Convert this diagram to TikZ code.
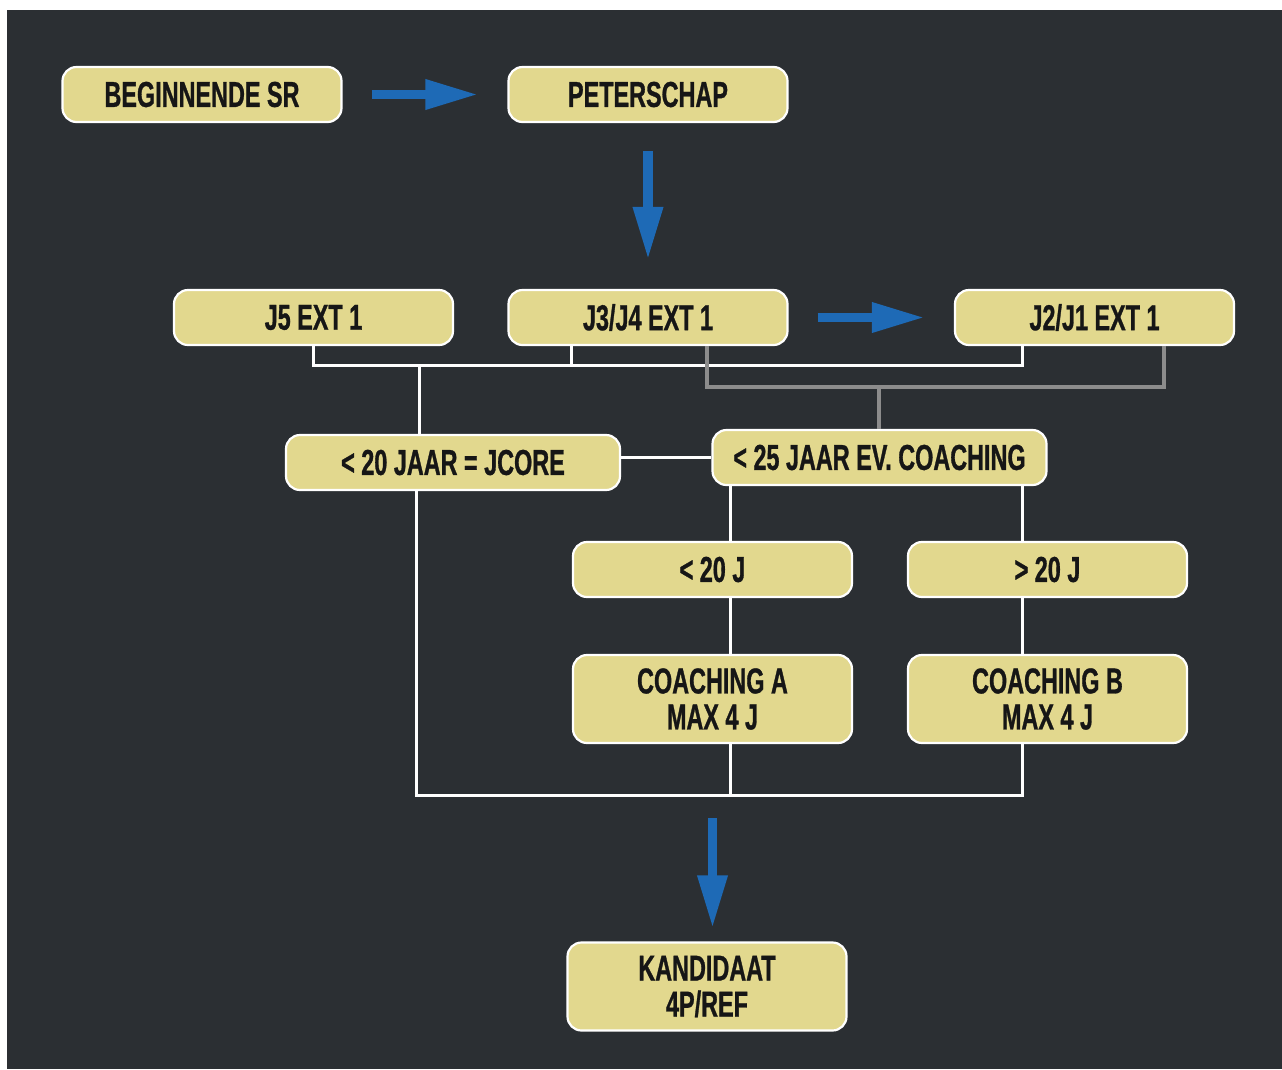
\documentclass[tikz,border=0pt]{standalone}
\usepackage{fontspec}
\newfontfamily\boxfont[FakeStretch=0.65,FakeBold=0.8]{Liberation Sans}
\usetikzlibrary{arrows.meta}
\definecolor{bgdark}{RGB}{43,47,51}
\definecolor{boxfill}{RGB}{226,216,142}
\definecolor{flowblue}{RGB}{30,106,182}
\definecolor{wiregrey}{RGB}{140,140,140}
\definecolor{inkdark}{RGB}{22,22,22}

\begin{document}
\begin{tikzpicture}[x=1pt,y=-1pt,
    box/.style={rectangle, rounded corners=14pt, draw=white, line width=2.2pt,
      fill=boxfill, minimum width=279pt, minimum height=55pt, inner sep=0pt,
      text=inkdark, font=\boxfont\bfseries\fontsize{36}{36}\selectfont, align=center},
    widebox/.style={box, minimum width=334pt},
    tallbox/.style={box, minimum height=88pt},
    wire/.style={draw=white, line width=3pt},
    greywire/.style={draw=wiregrey, line width=3.5pt},
    flow/.style={draw=flowblue, line width=9.5pt, -{Triangle[width=28pt,length=53pt]}}]
  \useasboundingbox (0,0) rectangle (1282,1069);
  \fill[white] (0,0) rectangle (1282,1069);
  \fill[bgdark] (7,10) rectangle (1282,1069);

  \node[box] (begin) at (202,94.5) {BEGINNENDE SR};
  \node[box] (peter) at (648,94.5) {PETERSCHAP};
  \node[box] (j5) at (313.5,317.5) {J5 EXT 1};
  \node[box] (j34) at (648,317.5) {J3/J4 EXT 1};
  \node[box] (j21) at (1094.5,317.5) {J2/J1 EXT 1};
  \node[widebox] (jcore) at (453,462.5) {< 20 JAAR = JCORE};
  \node[widebox] (coach25) at (879.5,457.5) {< 25 JAAR EV. COACHING};
  \node[box] (lt20) at (712.5,569.5) {< 20 J};
  \node[box] (gt20) at (1047.5,569.5) {> 20 J};
  \node[tallbox] (coachA) at (712.5,699) {COACHING A\\MAX 4 J};
  \node[tallbox] (coachB) at (1047.5,699) {COACHING B\\MAX 4 J};
  \node[tallbox] (kand) at (707,986.5) {KANDIDAAT\\4P/REF};

  % blue arrows
  \draw[flow] ([xshift=29pt]begin.east) -- ([xshift=-29pt]peter.west);
  \draw[flow] ([yshift=-28pt]peter.south) -- ([yshift=29pt]j34.north);
  \draw[flow] ([xshift=29pt]j34.east) -- ([xshift=-29pt]j21.west);
  \coordinate (drop) at (712.5,818);
  \draw[flow, shorten >=13pt] (drop) -- (drop |- kand.north);

  % white and grey connectors
  \coordinate (busA) at (419,365);
  \coordinate (busB) at (879,387);
  \coordinate (busC) at (730,795);
  \coordinate (colA) at ([xshift=17.5pt]lt20.north);
  \coordinate (colB) at ([xshift=-25.5pt]gt20.north);
  \draw[wire] (j5.south) |- (busA) -| ([xshift=-72.5pt]j21.south);
  \draw[wire] ([xshift=-77pt]j34.south) |- (busA);
  \draw[wire] (busA) -- (jcore.north -| busA);
  \draw[greywire] ([xshift=59pt]j34.south) |- (busB) -| ([xshift=69.5pt]j21.south);
  \draw[greywire] (busB) -- (coach25.north -| busB);
  \draw[wire] (jcore.east |- coach25.west) -- (coach25.west);
  \draw[wire] (coach25.south -| colA) -- (colA);
  \draw[wire] (coach25.south -| colB) -- (colB);
  \draw[wire] (lt20.south -| colA) -- (coachA.north -| colA);
  \draw[wire] (gt20.south -| colB) -- (coachB.north -| colB);
  \draw[wire] ([xshift=-37pt]jcore.south) |- (busC) -| (coachB.south -| colB);
  \draw[wire] (coachA.south -| colA) -- (busC);
\end{tikzpicture}
\end{document}
